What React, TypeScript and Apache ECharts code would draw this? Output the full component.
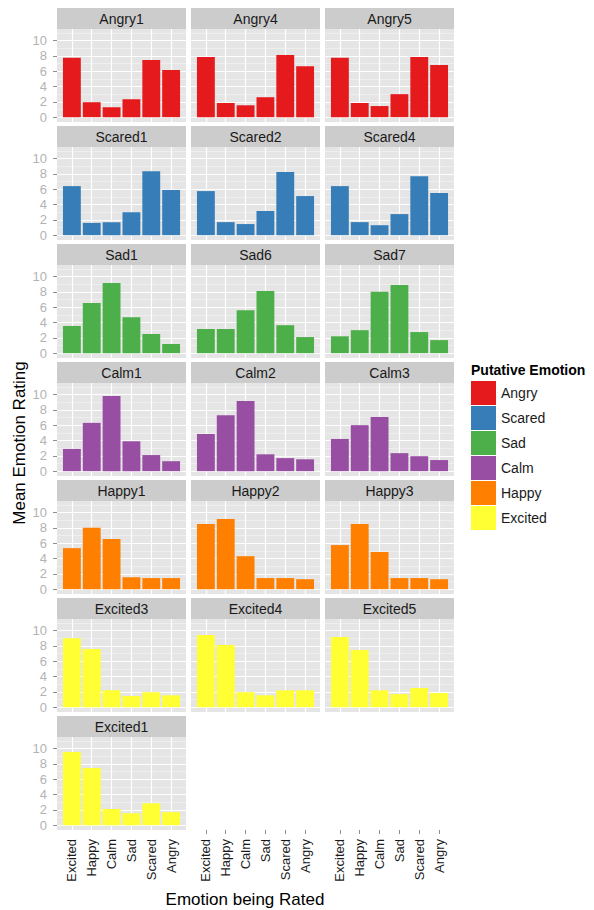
import React, { useEffect, useRef } from 'react';
import * as echarts from 'echarts';

// ---- data ----
const categories = ['Excited', 'Happy', 'Calm', 'Sad', 'Scared', 'Angry'];
const emotions = ['Angry', 'Scared', 'Sad', 'Calm', 'Happy', 'Excited'];
const emotionColors = ['#E41A1C', '#377EB8', '#4DAF4A', '#984EA3', '#FF7F00', '#FFFF33'];
const yTickValues = [0, 2, 4, 6, 8, 10];
const yMinorValues = [1, 3, 5, 7, 9, 11];

const angry1 = [7.75, 1.95, 1.3, 2.35, 7.45, 6.15];
const angry4 = [7.85, 1.85, 1.55, 2.6, 8.1, 6.65];
const angry5 = [7.75, 1.85, 1.45, 3.0, 7.85, 6.8];
const scared1 = [6.4, 1.6, 1.7, 3.0, 8.35, 5.9];
const scared2 = [5.75, 1.7, 1.45, 3.15, 8.25, 5.1];
const scared4 = [6.4, 1.7, 1.3, 2.75, 7.7, 5.5];
const sad1 = [3.55, 6.55, 9.15, 4.7, 2.5, 1.2];
const sad6 = [3.15, 3.15, 5.6, 8.1, 3.65, 2.1];
const sad7 = [2.2, 3.0, 8.0, 8.9, 2.75, 1.7];
const calm1 = [2.9, 6.3, 9.8, 3.9, 2.1, 1.3];
const calm2 = [4.85, 7.3, 9.15, 2.2, 1.7, 1.55];
const calm3 = [4.2, 6.0, 7.05, 2.35, 1.95, 1.45];
const happy1 = [5.35, 8.0, 6.55, 1.55, 1.45, 1.45];
const happy2 = [8.5, 9.15, 4.3, 1.45, 1.45, 1.3];
const happy3 = [5.75, 8.5, 4.85, 1.45, 1.45, 1.3];
const excited3 = [9.0, 7.6, 2.2, 1.45, 1.95, 1.55];
const excited4 = [9.4, 8.1, 1.95, 1.55, 2.2, 2.2];
const excited5 = [9.15, 7.45, 2.2, 1.7, 2.5, 1.85];
const excited1 = [9.55, 7.45, 2.1, 1.55, 2.85, 1.7];

const panels: { name: string; emotion: string; values: number[] }[] = [
  { name: 'Angry1', emotion: 'Angry', values: angry1 },
  { name: 'Angry4', emotion: 'Angry', values: angry4 },
  { name: 'Angry5', emotion: 'Angry', values: angry5 },
  { name: 'Scared1', emotion: 'Scared', values: scared1 },
  { name: 'Scared2', emotion: 'Scared', values: scared2 },
  { name: 'Scared4', emotion: 'Scared', values: scared4 },
  { name: 'Sad1', emotion: 'Sad', values: sad1 },
  { name: 'Sad6', emotion: 'Sad', values: sad6 },
  { name: 'Sad7', emotion: 'Sad', values: sad7 },
  { name: 'Calm1', emotion: 'Calm', values: calm1 },
  { name: 'Calm2', emotion: 'Calm', values: calm2 },
  { name: 'Calm3', emotion: 'Calm', values: calm3 },
  { name: 'Happy1', emotion: 'Happy', values: happy1 },
  { name: 'Happy2', emotion: 'Happy', values: happy2 },
  { name: 'Happy3', emotion: 'Happy', values: happy3 },
  { name: 'Excited3', emotion: 'Excited', values: excited3 },
  { name: 'Excited4', emotion: 'Excited', values: excited4 },
  { name: 'Excited5', emotion: 'Excited', values: excited5 },
  { name: 'Excited1', emotion: 'Excited', values: excited1 },
];

// ---- layout ----
const FONT = '"Liberation Sans", Arial, Helvetica, sans-serif';
const LEFT0 = 57;
const COL_PITCH = 134;
const PANEL_W = 129;
const STRIP_TOP0 = 8;
const ROW_PITCH = 118;
const STRIP_H = 21;
const PLOT_H = 93;
const NCOL = 3;
const X_MIN = 0.25;
const X_MAX = 6.75;
const Y_MIN = -0.63;
const Y_MAX = 11.5;
const BAR_W = (0.9 * PANEL_W) / (X_MAX - X_MIN);
const xTickValues = categories.map((_, k) => k + 1);

function buildOption() {
  const grid: any[] = [];
  const xAxis: any[] = [];
  const yAxis: any[] = [];
  const series: any[] = [];
  const graphic: any[] = [];
  const lastRow = Math.floor((panels.length - 1) / NCOL);

  const makeX = (gi: number, showLabels: boolean) => ({
    type: 'value',
    gridIndex: gi,
    min: X_MIN,
    max: X_MAX,
    axisLine: { show: false },
    splitLine: { show: false },
    axisTick: {
      show: showLabels,
      customValues: xTickValues,
      length: 4,
      lineStyle: { color: '#8c8c8c', width: 1 },
    },
    axisLabel: {
      show: showLabels,
      customValues: xTickValues,
      rotate: 90,
      margin: 9,
      fontSize: 13,
      fontFamily: FONT,
      color: '#1a1a1a',
      formatter: (v: number) => categories[Math.round(v) - 1] ?? '',
    },
  });

  panels.forEach((p, i) => {
    const r = Math.floor(i / NCOL);
    const c = i % NCOL;
    const left = LEFT0 + c * COL_PITCH;
    const stripTop = STRIP_TOP0 + r * ROW_PITCH;
    const top = stripTop + STRIP_H;
    const isLeft = c === 0;
    // bottom-most panel in its column
    const isBottom = i + NCOL >= panels.length;
    const showXLabels = isBottom && r === lastRow;

    grid.push({
      left,
      top,
      width: PANEL_W,
      height: PLOT_H,
      show: true,
      backgroundColor: '#E5E5E5',
      borderWidth: 0,
      containLabel: false,
    });
    xAxis.push(makeX(i, showXLabels));
    yAxis.push({
      type: 'value',
      gridIndex: i,
      min: Y_MIN,
      max: Y_MAX,
      axisLine: { show: false },
      splitLine: { show: false },
      axisTick: {
        show: isLeft,
        customValues: yTickValues,
        length: 4,
        lineStyle: { color: '#8c8c8c', width: 1 },
      },
      axisLabel: {
        show: isLeft,
        customValues: yTickValues,
        margin: 10,
        fontSize: 13,
        fontFamily: FONT,
        color: '#b3b3b3',
      },
    });

    const color = emotionColors[emotions.indexOf(p.emotion)];
    const lines: any[] = [];
    yMinorValues.forEach((v) =>
      lines.push({ yAxis: v, lineStyle: { color: '#F2F2F2', width: 0.7, type: 'solid' } })
    );
    yTickValues.forEach((v) =>
      lines.push({ yAxis: v, lineStyle: { color: '#FFFFFF', width: 1.2, type: 'solid' } })
    );
    xTickValues.forEach((v) =>
      lines.push({ xAxis: v, lineStyle: { color: '#FFFFFF', width: 1.2, type: 'solid' } })
    );

    series.push({
      type: 'bar',
      name: p.emotion,
      xAxisIndex: i,
      yAxisIndex: i,
      data: p.values.map((v, k) => [k + 1, v]),
      barWidth: BAR_W,
      itemStyle: { color },
      z: 2,
      silent: true,
      emphasis: { disabled: true },
      markLine: {
        silent: true,
        symbol: ['none', 'none'],
        z: 1,
        label: { show: false },
        emphasis: { disabled: true },
        data: lines,
      },
    });

    graphic.push({
      type: 'rect',
      shape: { x: left, y: stripTop, width: PANEL_W, height: STRIP_H },
      style: { fill: '#CCCCCC' },
      silent: true,
    });
    graphic.push({
      type: 'text',
      x: left + PANEL_W / 2,
      y: stripTop + STRIP_H / 2 + 0.5,
      style: {
        text: p.name,
        fill: '#1a1a1a',
        font: `14px ${FONT}`,
        align: 'center',
        verticalAlign: 'middle',
      },
      silent: true,
    });
  });

  // extra x axes for columns whose last panel is above the bottom row
  const usedCols = panels.length % NCOL;
  if (usedCols !== 0) {
    for (let c = usedCols; c < NCOL; c++) {
      const gi = grid.length;
      grid.push({
        left: LEFT0 + c * COL_PITCH,
        top: STRIP_TOP0 + lastRow * ROW_PITCH + STRIP_H,
        width: PANEL_W,
        height: PLOT_H,
        show: false,
        containLabel: false,
      });
      xAxis.push(makeX(gi, true));
      yAxis.push({ type: 'value', gridIndex: gi, min: 0, max: 1, show: false });
    }
  }

  // axis titles and legend title
  graphic.push({
    type: 'text',
    x: 245,
    y: 899,
    style: {
      text: 'Emotion being Rated',
      fill: '#000',
      font: `17px ${FONT}`,
      align: 'center',
      verticalAlign: 'middle',
    },
    silent: true,
  });
  graphic.push({
    type: 'text',
    x: 19,
    y: 443,
    rotation: Math.PI / 2,
    style: {
      text: 'Mean Emotion Rating',
      fill: '#000',
      font: `17px ${FONT}`,
      align: 'center',
      verticalAlign: 'middle',
    },
    silent: true,
  });
  graphic.push({
    type: 'text',
    x: 471,
    y: 370,
    style: {
      text: 'Putative Emotion',
      fill: '#000',
      font: `bold 14px ${FONT}`,
      align: 'left',
      verticalAlign: 'middle',
    },
    silent: true,
  });

  return {
    animation: false,
    backgroundColor: '#FFFFFF',
    grid,
    xAxis,
    yAxis,
    series,
    graphic,
    legend: {
      data: emotions,
      orient: 'vertical',
      left: 471,
      top: 381,
      padding: 0,
      itemWidth: 25,
      itemHeight: 24,
      itemGap: 1,
      icon: 'rect',
      selectedMode: false,
      textStyle: { fontSize: 14, fontFamily: FONT, color: '#1a1a1a' },
    },
  };
}

export default function App() {
  const ref = useRef<HTMLDivElement>(null);
  useEffect(() => {
    if (!ref.current) return;
    const chart = echarts.init(ref.current, null, { renderer: 'svg' });
    chart.setOption(buildOption() as any);
    return () => chart.dispose();
  }, []);
  return (
    <div
      ref={ref}
      style={{ position: 'absolute', left: 0, top: 0, width: 594, height: 910 }}
    />
  );
}
